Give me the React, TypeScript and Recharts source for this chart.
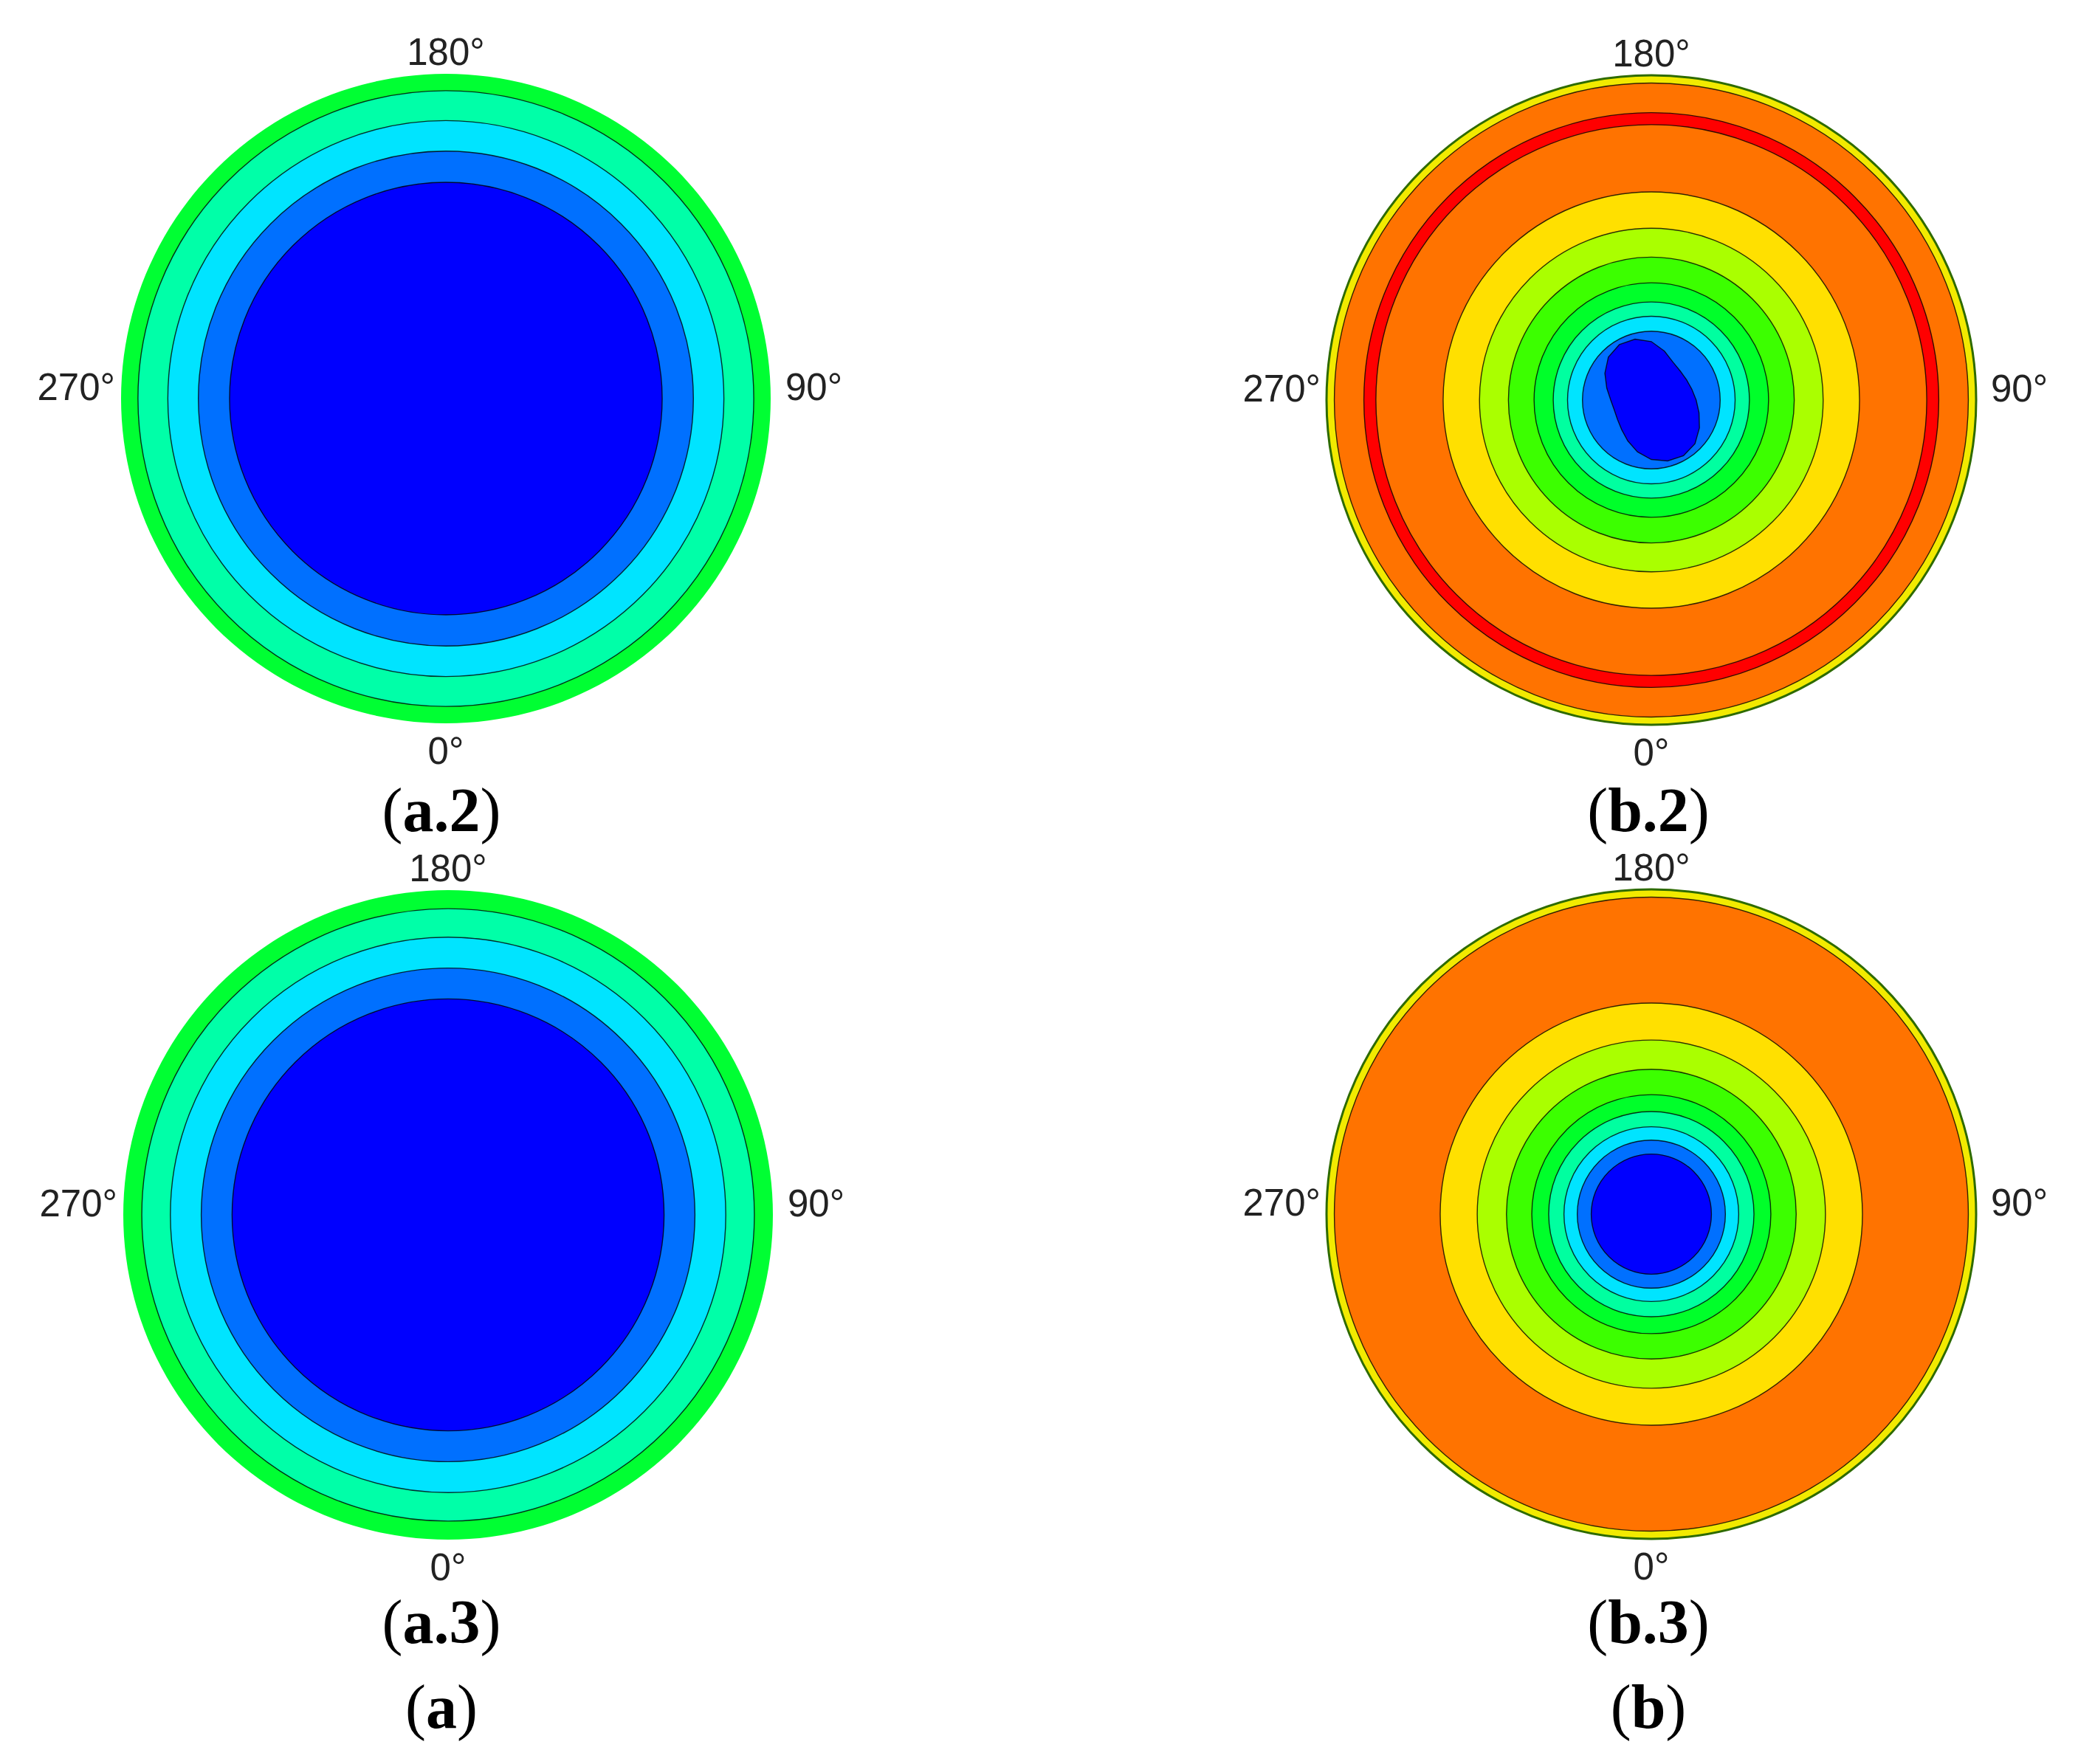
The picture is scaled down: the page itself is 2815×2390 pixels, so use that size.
import React from 'react';
import { PieChart, Pie, RadarChart, Radar, PolarGrid, PolarAngleAxis, PolarRadiusAxis } from 'recharts';

// angle labels around each plot
const angleTicks = [0, 90, 180, 270];

// contour boundaries as a fraction of the outer radius, outermost first
const a2Levels = [1, 0.948, 0.856, 0.762, 0.666];
const a3Levels = [1, 0.943, 0.855, 0.76, 0.665];
const aColors = ['#00FF33', '#00FFA8', '#00E4FF', '#0070FF', '#0000FF'];

const b2Levels = [1, 0.976, 0.885, 0.848, 0.641, 0.529, 0.44, 0.361, 0.302, 0.258, 0.212];
const b2Colors = ['#F2EA00', '#FF7300', '#FF0000', '#FF7300', '#FFE000', '#AAFF00', '#3CFF00', '#00FF2A', '#00FFA0', '#00E4FF', '#0070FF'];

const b3Levels = [1, 0.976, 0.65, 0.536, 0.446, 0.368, 0.316, 0.269, 0.228, 0.185];
const b3Colors = ['#F2EA00', '#FF7300', '#FFE000', '#AAFF00', '#3CFF00', '#00FF2A', '#00FFA0', '#00E4FF', '#0070FF', '#0000FF'];

// tilted low-value core of (b.2), radius read every 15 degrees
const coreAngles = [0, 15, 30, 45, 60, 75, 90, 105, 120, 135, 150, 165, 180, 195, 210, 225, 240, 255, 270, 285, 300, 315, 330, 345];
const b2CoreRadius = [0.183, 0.194, 0.198, 0.19, 0.171, 0.152, 0.138, 0.129, 0.125, 0.126, 0.134, 0.156, 0.18, 0.194, 0.197, 0.187, 0.165, 0.142, 0.125, 0.118, 0.12, 0.129, 0.145, 0.165];

const SIZE = 1200;
const MARGIN = 160;

const AngleTick = (props: any) => {
  const { x, y, payload } = props;
  const v = Number(payload.value);
  if (v % 90 !== 0 || v >= 360) return <g />;
  let anchor = 'middle';
  let dx = 0;
  let dy = 0;
  if (v === 0) dy = 47;
  else if (v === 180) dy = -4;
  else if (v === 90) { anchor = 'start'; dx = 12; dy = 2; }
  else { anchor = 'end'; dy = 2; }
  return (
    <text x={x + dx} y={y + dy} textAnchor={anchor} fontFamily="'Liberation Sans', Arial, sans-serif" fontSize={51} fill="#222">
      {`${v}°`}
    </text>
  );
};

interface PanelProps {
  levels: number[];
  colors: string[];
  rim?: boolean;
  core?: number[];
  left: number;
  top: number;
}

const Panel: React.FC<PanelProps> = ({ levels, colors, rim, core, left, top }) => {
  // core rows for (b.2); elsewhere only the outer edge at the labelled angles
  const rows = core
    ? coreAngles.map((a, i) => ({ angle: a, r: core[i] }))
    : angleTicks.map(a => ({ angle: a, edge: levels[0] }));
  const margin = { top: MARGIN, right: MARGIN, bottom: MARGIN, left: MARGIN };

  return (
    <div style={{ position: 'absolute', left, top, width: SIZE, height: SIZE }}>
      <div style={{ position: 'absolute', left: 0, top: 0 }}>
        <PieChart width={SIZE} height={SIZE} margin={margin}>
          {levels.map((lvl, i) => (
            <Pie
              key={i}
              data={[{ name: `level ${i}`, value: 1 }]}
              dataKey="value"
              cx="50%"
              cy="50%"
              innerRadius={0}
              outerRadius={`${lvl * 100}%`}
              startAngle={90}
              endAngle={450}
              fill={colors[i]}
              stroke="none"
              isAnimationActive={false}
            />
          ))}
        </PieChart>
      </div>
      <div style={{ position: 'absolute', left: 0, top: 0 }}>
        <RadarChart
          width={SIZE}
          height={SIZE}
          margin={margin}
          data={rows}
          cx="50%"
          cy="50%"
          outerRadius="100%"
          startAngle={-90}
          endAngle={270}
        >
          <PolarGrid gridType="circle" radialLines={false} stroke="#000" strokeOpacity={0.8} strokeWidth={1.4} />
          <PolarAngleAxis
            dataKey="angle"
            type="number"
            domain={[0, 360]}
            ticks={angleTicks}
            tick={AngleTick}
            tickLine={false}
            axisLineType="circle"
            axisLine={rim ? { stroke: '#2E6B00', strokeWidth: 3 } : false}
          />
          <PolarRadiusAxis type="number" domain={[0, 1]} ticks={levels.slice(1)} tick={false} axisLine={false} />
          {core ? (
            <Radar
              dataKey="r"
              fill="#0000FF"
              fillOpacity={1}
              stroke="#000"
              strokeOpacity={0.8}
              strokeWidth={1.4}
              dot={false}
              isAnimationActive={false}
            />
          ) : (
            <Radar dataKey="edge" fill="none" stroke="none" dot={false} isAnimationActive={false} />
          )}
        </RadarChart>
      </div>
    </div>
  );
};

const captions = [
  { id: 'a.2', x: 598, baseline: 1127 },
  { id: 'b.2', x: 2233, baseline: 1127 },
  { id: 'a.3', x: 598, baseline: 2227 },
  { id: 'b.3', x: 2233, baseline: 2227 },
  { id: 'a', x: 598, baseline: 2342 },
  { id: 'b', x: 2233, baseline: 2342 },
];

export default function App() {
  return (
    <div style={{ position: 'absolute', left: 0, top: 0, width: 2815, height: 2390, background: '#fff', overflow: 'hidden' }}>
      <Panel levels={a2Levels} colors={aColors} left={4} top={-60} />
      <Panel levels={b2Levels} colors={b2Colors} rim core={b2CoreRadius} left={1637} top={-58} />
      <Panel levels={a3Levels} colors={aColors} left={7} top={1046} />
      <Panel levels={b3Levels} colors={b3Colors} rim left={1637} top={1045} />
      {captions.map(c => (
        <div
          key={c.id}
          style={{
            position: 'absolute',
            left: c.x - 200,
            top: c.baseline - 71,
            width: 400,
            textAlign: 'center',
            fontFamily: "'Liberation Serif', 'Times New Roman', serif",
            fontSize: 84,
            lineHeight: '84px',
            color: '#000',
          }}
        >
          <span style={{ fontWeight: 400 }}>(</span>
          <b>{c.id}</b>
          <span style={{ fontWeight: 400 }}>)</span>
        </div>
      ))}
    </div>
  );
}
